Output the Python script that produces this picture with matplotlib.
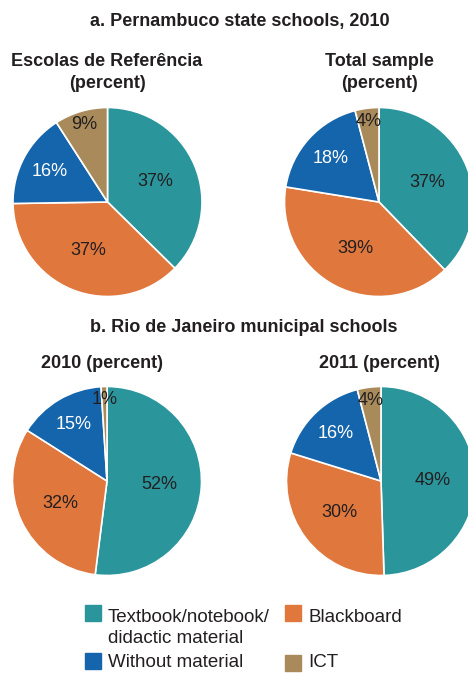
import numpy as np
import matplotlib.pyplot as plt
from matplotlib.patches import Rectangle

plt.rcParams['font.family'] = ['Liberation Sans', 'DejaVu Sans']

TEXT = '#231f20'
categories = ['Textbook/notebook/\ndidactic material', 'Blackboard', 'Without material', 'ICT']
colors = ['#2b959c', '#e0773d', '#1565ac', '#a98b5b']
label_colors = [TEXT, TEXT, 'white', TEXT]

escolas_2010 = [37, 37, 16, 9]
total_2010 = [37, 39, 18, 4]
rio_2010 = [52, 32, 15, 1]
rio_2011 = [49, 30, 16, 4]

W, H = 468, 673
fig = plt.figure(figsize=(W / 100, H / 100), dpi=100)


def pie_at(cx, cy, r, values):
    # cx, cy, r in pixels measured from the top-left corner
    ax = fig.add_axes([(cx - r) / W, 1 - (cy + r) / H, 2 * r / W, 2 * r / H])
    wedges, _ = ax.pie(values, colors=colors, startangle=90, counterclock=False,
                       wedgeprops=dict(edgecolor='white', linewidth=1.2))
    total = sum(values)
    for w, v, c in zip(wedges, values, label_colors):
        ang = np.deg2rad((w.theta1 + w.theta2) / 2)
        share = v / total
        rad = 0.55 if share > 0.3 else (0.69 if share > 0.1 else 0.86)
        ax.text(rad * np.cos(ang), rad * np.sin(ang), f'{v}%', ha='center', va='center',
                fontsize=13, color=c)
    ax.set_xlim(-1, 1)
    ax.set_ylim(-1, 1)
    ax.set_aspect('equal')
    ax.axis('off')


def ftext(x, y, s, ha='center', **kw):
    # y is the baseline in pixels from the top
    fig.text(x / W, 1 - y / H, s, ha=ha, va='baseline', color=TEXT, **kw)


bold = dict(fontsize=13, fontweight='bold')
ftext(240, 26, 'a. Pernambuco state schools, 2010', **bold)
ftext(107, 66, 'Escolas de Referência', **bold)
ftext(107, 88, '(percent)', **bold)
ftext(379, 66, 'Total sample', **bold)
ftext(379, 88, '(percent)', **bold)
ftext(244, 332, 'b. Rio de Janeiro municipal schools', **bold)
ftext(102, 368, '2010 (percent)', **bold)
ftext(379, 368, '2011 (percent)', **bold)

pie_at(107.5, 202, 94.5, escolas_2010)
pie_at(379, 202, 94.5, total_2010)
pie_at(107, 481, 94.5, rio_2010)
pie_at(381, 481, 94.5, rio_2011)

# legend drawn by hand to follow the original layout
box_pos = [(85, 605), (285, 605), (85, 653), (285, 655)]
text_base = [622, 622, 667, 667]
for (x, y), yb, col, lab in zip(box_pos, text_base, colors, categories):
    fig.add_artist(Rectangle((x / W, 1 - (y + 16) / H), 16 / W, 16 / H,
                             transform=fig.transFigure, color=col))
    for i, line in enumerate(lab.split('\n')):
        ftext(x + 23, yb + 21 * i, line, ha='left', fontsize=13.5)

fig.savefig('out.png', dpi=100)
